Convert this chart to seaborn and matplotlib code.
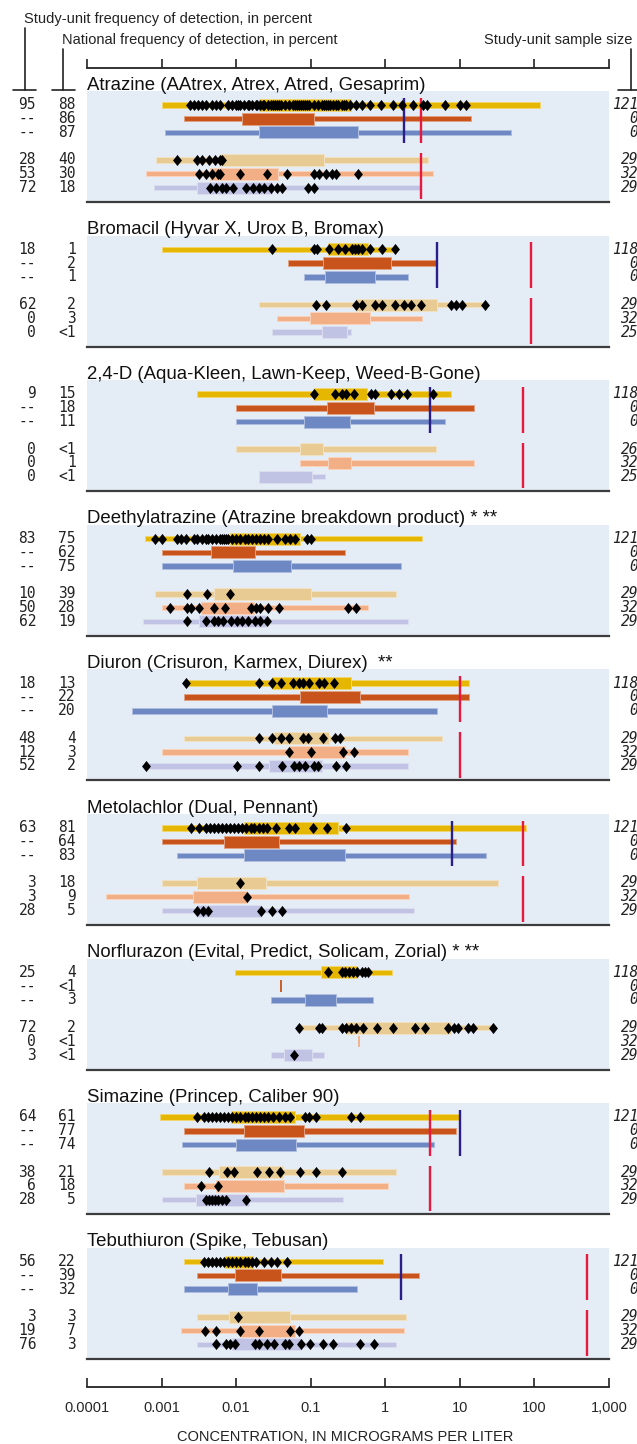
import matplotlib
matplotlib.use("Agg")
import matplotlib.pyplot as plt
import seaborn as sns
import pandas as pd
from matplotlib.colors import to_rgb
from matplotlib.lines import Line2D
from matplotlib.transforms import blended_transform_factory

# ---- data (concentrations in ug/L) ----
herbicides = [
    "Atrazine (AAtrex, Atrex, Atred, Gesaprim)",
    "Bromacil (Hyvar X, Urox B, Bromax)",
    "2,4-D (Aqua-Kleen, Lawn-Keep, Weed-B-Gone)",
    "Deethylatrazine (Atrazine breakdown product) * **",
    "Diuron (Crisuron, Karmex, Diurex)  **",
    "Metolachlor (Dual, Pennant)",
    "Norflurazon (Evital, Predict, Solicam, Zorial) * **",
    "Simazine (Princep, Caliber 90)",
    "Tebuthiuron (Spike, Tebusan)",
]

range_min = [
    [0.001, 0.002, 0.0011, 0.00085, 0.00062, 0.00079],
    [0.001, 0.05, 0.081, 0.02, 0.035, 0.03],
    [0.003, 0.01, 0.01, 0.01, 0.071, 0.02],
    [0.0006, 0.001, 0.001, 0.00081, 0.001, 0.00057],
    [0.0021, 0.002, 0.0004, 0.002, 0.001, 0.00062],
    [0.001, 0.001, 0.0016, 0.001, 0.00018, 0.001],
    [0.0098, 0.04, 0.029, 0.07, 0.44, 0.029],
    [0.00096, 0.002, 0.0019, 0.001, 0.002, 0.001],
    [0.002, 0.003, 0.002, 0.003, 0.0018, 0.003],
]
range_max = [
    [120, 14, 49, 3.7, 4.3, 3.0],
    [1.3, 5.0, 2.0, 22, 3.1, 0.35],
    [7.5, 15.5, 6.4, 4.8, 15.3, 0.155],
    [3.15, 0.29, 1.6, 1.4, 0.58, 2.0],
    [13.3, 13.3, 4.9, 5.75, 2.0, 2.0],
    [77, 8.8, 22.6, 32, 2.1, 2.45],
    [1.24, 0.04, 0.69, 28, 0.44, 0.15],
    [9.6, 9.0, 4.5, 1.38, 1.1, 0.27],
    [0.94, 2.8, 0.42, 1.9, 1.8, 1.4],
]
box_lo = [
    [0.020, 0.012, 0.020, 0.0061, 0.0044, 0.0030],
    [0.17, 0.145, 0.155, 0.41, 0.098, 0.14],
    [0.112, 0.163, 0.082, 0.071, 0.17, 0.020],
    [0.0083, 0.0046, 0.0090, 0.0051, 0.0034, 0.0032],
    [0.030, 0.071, 0.030, 0.032, 0.051, 0.028],
    [0.0126, 0.0069, 0.0126, 0.0030, 0.0026, 0.0030],
    [0.138, 0.04, 0.085, 0.30, 0.44, 0.044],
    [0.0085, 0.0126, 0.010, 0.0058, 0.0054, 0.0029],
    [0.0071, 0.0098, 0.0078, 0.0081, 0.0114, 0.0089],
]
box_hi = [
    [0.35, 0.11, 0.43, 0.15, 0.036, 0.030],
    [0.59, 1.18, 0.73, 5.0, 0.63, 0.305],
    [0.57, 0.70, 0.34, 0.145, 0.35, 0.105],
    [0.071, 0.018, 0.054, 0.10, 0.0176, 0.025],
    [0.35, 0.456, 0.167, 0.176, 0.29, 0.14],
    [0.23, 0.038, 0.29, 0.025, 0.014, 0.0215],
    [0.42, 0.04, 0.215, 7.6, 0.44, 0.105],
    [0.062, 0.082, 0.064, 0.042, 0.044, 0.015],
    [0.017, 0.040, 0.019, 0.052, 0.062, 0.075],
]

detections = [
    [  # Atrazine
        [0.0024, 0.0027, 0.0031, 0.0035, 0.0039, 0.0047, 0.0054, 0.0061, 0.0078, 0.0089,
         0.010, 0.0105, 0.0113, 0.0129, 0.0146, 0.015, 0.0165, 0.0187, 0.019, 0.021, 0.023,
         0.024, 0.027, 0.029, 0.031, 0.033, 0.035, 0.038, 0.040, 0.045, 0.051, 0.058, 0.062,
         0.066, 0.07, 0.075, 0.08, 0.084, 0.09, 0.096, 0.109, 0.124, 0.14, 0.15, 0.159, 0.17,
         0.18, 0.20, 0.22, 0.23, 0.26, 0.28, 0.30, 0.34, 0.41, 0.49, 0.63, 0.87, 1.25, 1.7,
         2.35, 3.2, 3.65, 6.4, 10, 12],
        [], [],
        [0.0016, 0.0030, 0.0035, 0.0043, 0.0052, 0.0061, 0.0065],
        [0.0032, 0.0039, 0.0047, 0.0057, 0.0061, 0.0114, 0.0257, 0.048, 0.109, 0.131, 0.159,
         0.19, 0.22, 0.43],
        [0.0044, 0.0054, 0.0065, 0.0073, 0.0091, 0.0137, 0.0166, 0.020, 0.024, 0.029, 0.035,
         0.041, 0.092, 0.112],
    ],
    [  # Bromacil
        [0.030, 0.112, 0.12, 0.176, 0.23, 0.29, 0.36, 0.39, 0.43, 0.49, 0.63, 0.89, 1.34],
        [], [],
        [0.116, 0.16, 0.40, 0.48, 0.72, 0.89, 1.34, 1.77, 2.2, 3.03, 7.6, 8.8, 10.6, 22],
        [], [],
    ],
    [  # 2,4-D
        [0.112, 0.21, 0.26, 0.30, 0.38, 0.65, 0.73, 1.21, 1.52, 1.95, 4.4],
        [], [], [], [], [],
    ],
    [  # Deethylatrazine
        [0.00081, 0.001, 0.0016, 0.0018, 0.0021, 0.0027, 0.0030, 0.0035, 0.0039, 0.0042,
         0.0047, 0.0054, 0.0061, 0.0065, 0.0069, 0.0073, 0.0078, 0.0089, 0.010, 0.0114,
         0.013, 0.0146, 0.0165, 0.0187, 0.021, 0.024, 0.027, 0.035, 0.045, 0.053, 0.062,
         0.090, 0.102],
        [], [],
        [0.0022, 0.0041, 0.0083],
        [0.0013, 0.0022, 0.0025, 0.0032, 0.0050, 0.0071, 0.016, 0.0187, 0.021, 0.027,
         0.0375, 0.32, 0.40],
        [0.0022, 0.0039, 0.0050, 0.0057, 0.0067, 0.0086, 0.0103, 0.012, 0.0146, 0.018,
         0.021, 0.026],
    ],
    [  # Diuron
        [0.0021, 0.020, 0.030, 0.040, 0.058, 0.070, 0.080, 0.096, 0.131, 0.149, 0.204],
        [], [],
        [0.020, 0.030, 0.040, 0.051, 0.080, 0.092, 0.144, 0.21, 0.246],
        [0.051, 0.101, 0.27, 0.38],
        [0.00062, 0.0103, 0.020, 0.041, 0.060, 0.070, 0.083, 0.112, 0.127, 0.22, 0.30],
    ],
    [  # Metolachlor
        [0.0025, 0.0032, 0.0039, 0.0044, 0.0050, 0.0057, 0.0065, 0.0073, 0.0083, 0.0094,
         0.0107, 0.012, 0.0137, 0.0156, 0.0176, 0.020, 0.0227, 0.0257, 0.034, 0.051, 0.062,
         0.106, 0.165, 0.30],
        [], [],
        [0.0114],
        [0.0138],
        [0.0030, 0.0036, 0.0042, 0.0215, 0.030, 0.041],
    ],
    [  # Norflurazon
        [0.17, 0.26, 0.29, 0.33, 0.37, 0.42, 0.48, 0.54, 0.59],
        [], [],
        [0.070, 0.131, 0.14, 0.26, 0.30, 0.35, 0.41, 0.50, 0.77, 1.25, 2.5, 3.4, 6.9, 8.3,
         9.4, 12.9, 14.9, 28],
        [],
        [0.059],
    ],
    [  # Simazine
        [0.0030, 0.0037, 0.0042, 0.0047, 0.0054, 0.0061, 0.0069, 0.0078, 0.0089, 0.010,
         0.0114, 0.013, 0.0146, 0.0165, 0.0187, 0.021, 0.024, 0.027, 0.031, 0.0375, 0.045,
         0.053, 0.083, 0.096, 0.116, 0.35, 0.46],
        [], [],
        [0.0043, 0.0076, 0.0093, 0.019, 0.028, 0.039, 0.071, 0.116, 0.26],
        [0.0034, 0.0057],
        [0.0039, 0.0043, 0.0047, 0.0052, 0.0057, 0.0065, 0.0073, 0.0137],
    ],
    [  # Tebuthiuron
        [0.0037, 0.0042, 0.0047, 0.0054, 0.0061, 0.0069, 0.0078, 0.0089, 0.010, 0.0114,
         0.013, 0.0146, 0.0165, 0.0187, 0.0235, 0.029, 0.035, 0.048],
        [], [],
        [0.0107],
        [0.0038, 0.0054, 0.0114, 0.020, 0.053, 0.069],
        [0.0054, 0.0072, 0.0083, 0.0096, 0.018, 0.020, 0.0257, 0.032, 0.045, 0.051, 0.075,
         0.098, 0.144, 0.199, 0.456, 0.70],
    ],
]

aquatic_line = [1.8, 5.0, 4.0, None, None, 7.8, None, 10, 1.6]
water_line = [3.0, 90, 70, None, 10, 70, None, 4.0, 500]

study_freq = [
    ["95", "--", "--", "28", "53", "72"],
    ["18", "--", "--", "62", "0", "0"],
    ["9", "--", "--", "0", "0", "0"],
    ["83", "--", "--", "10", "50", "62"],
    ["18", "--", "--", "48", "12", "52"],
    ["63", "--", "--", "3", "3", "28"],
    ["25", "--", "--", "72", "0", "3"],
    ["64", "--", "--", "38", "6", "28"],
    ["56", "--", "--", "3", "19", "76"],
]
national_freq = [
    ["88", "86", "87", "40", "30", "18"],
    ["1", "2", "1", "2", "3", "<1"],
    ["15", "18", "11", "<1", "1", "<1"],
    ["75", "62", "75", "39", "28", "19"],
    ["13", "22", "20", "4", "3", "2"],
    ["81", "64", "83", "18", "9", "5"],
    ["4", "<1", "3", "2", "<1", "<1"],
    ["61", "77", "74", "21", "18", "5"],
    ["22", "39", "32", "3", "7", "3"],
]
sample_size = [
    ["121", "0", "0", "29", "32", "29"],
    ["118", "0", "0", "29", "32", "25"],
    ["118", "0", "0", "26", "32", "25"],
    ["121", "0", "0", "29", "32", "29"],
    ["118", "0", "0", "29", "32", "29"],
    ["121", "0", "0", "29", "32", "29"],
    ["118", "0", "0", "29", "32", "29"],
    ["121", "0", "0", "29", "32", "29"],
    ["121", "0", "0", "29", "32", "29"],
]

tick_values = [0.0001, 0.001, 0.01, 0.1, 1, 10, 100, 1000]
tick_labels = ["0.0001", "0.001", "0.01", "0.1", "1", "10", "100", "1,000"]

# ---- styling ----
row_y = [1, 2, 3, 5, 6, 7]
row_colors = ["#E5B700", "#C8541B", "#6E88C3", "#E8CB93", "#F2AF85", "#C0C3E3"]
panel_bg = "#E4ECF6"
red = "#E8193C"
navy = "#2A1E8A"

sns.set_style("white")
plt.rcParams["font.family"] = ["Liberation Sans", "DejaVu Sans"]
mono = "DejaVu Sans Mono"

W, H = 637, 1444
fig = plt.figure(figsize=(W / 100, H / 100), dpi=100)
X0, X1 = 87, 609


def fx(px):
    return px / W


def fy(py):
    return 1 - py / H


def lighten(c, amt):
    r, g, b = to_rgb(c)
    return (r + (1 - r) * amt, g + (1 - g) * amt, b + (1 - b) * amt)


diamond = [(0, 1), (0.8, 0), (0, -1), (-0.8, 0), (0, 1)]

rows = []
for k in range(len(herbicides)):
    for j in range(6):
        for v in detections[k][j]:
            rows.append({"panel": k, "y": row_y[j], "conc": v})
points = pd.DataFrame(rows)

for k, name in enumerate(herbicides):
    top = 91 + 144.6 * k
    ax = fig.add_axes([fx(X0), fy(top + 111), fx(X1 - X0), 111 / H])
    ax.set_facecolor(panel_bg)
    ax.set_xscale("log")
    ax.set_xlim(1e-4, 1e3)
    for j in range(6):
        y = row_y[j]
        c = row_colors[j]
        lo, hi = range_min[k][j], range_max[k][j]
        if hi <= lo * 1.01:
            ax.vlines(lo, y - 0.42, y + 0.42, color=c, lw=1.3, zorder=3)
            continue
        ax.barh(y, hi - lo, left=lo, height=0.4, color=c,
                edgecolor=lighten(c, 0.45), linewidth=0.7, zorder=2)
        ax.barh(y, box_hi[k][j] - box_lo[k][j], left=box_lo[k][j], height=0.87,
                color=c, edgecolor=lighten(c, 0.45), linewidth=0.7, zorder=2)
    if aquatic_line[k] is not None:
        ax.vlines(aquatic_line[k], 0.48, 3.8, color=navy, lw=1.7, zorder=4)
    if water_line[k] is not None:
        ax.vlines(water_line[k], 0.48, 3.8, color=red, lw=1.7, zorder=4)
        ax.vlines(water_line[k], 4.52, 7.85, color=red, lw=1.7, zorder=4)
    sub = points[points["panel"] == k]
    if len(sub):
        sns.scatterplot(data=sub, x="conc", y="y", ax=ax, marker=diamond, s=64,
                        color="black", linewidth=0, legend=False, zorder=5)
    ax.set_ylim(8.05, 0)
    ax.set_xlabel("")
    ax.set_ylabel("")
    ax.set_xticks([])
    ax.set_yticks([])
    ax.minorticks_off()
    for s in ["top", "left", "right"]:
        ax.spines[s].set_visible(False)
    ax.spines["bottom"].set_color("#3c3c3c")
    ax.spines["bottom"].set_linewidth(1.6)
    ax.text(0, 1 + 1.5 / 111, name, transform=ax.transAxes, ha="left",
            va="baseline", fontsize=13.4, color="#111111")
    trans = blended_transform_factory(fig.transFigure, ax.transData)
    for j in range(6):
        y = row_y[j]
        ax.text(fx(36), y, study_freq[k][j], transform=trans, ha="right", va="center",
                family=mono, fontsize=10.5, color="#222222", clip_on=False)
        ax.text(fx(75.5), y, national_freq[k][j], transform=trans, ha="right", va="center",
                family=mono, fontsize=10.5, color="#222222", clip_on=False)
        ax.text(fx(638), y, sample_size[k][j], transform=trans, ha="right", va="center",
                family=mono, style="italic", fontsize=10.5, color="#222222", clip_on=False)

# top and bottom concentration scales
for ypx, labels in [(68, False), (1387, True)]:
    tax = fig.add_axes([fx(X0), fy(ypx), fx(X1 - X0), 9 / H])
    tax.set_xscale("log")
    tax.set_xlim(1e-4, 1e3)
    tax.set_facecolor("none")
    for s in ["top", "left", "right"]:
        tax.spines[s].set_visible(False)
    tax.spines["bottom"].set_linewidth(1.3)
    tax.spines["bottom"].set_color("#222222")
    tax.set_yticks([])
    tax.set_xticks(tick_values, tick_labels if labels else [""] * len(tick_values))
    tax.minorticks_off()
    tax.tick_params(axis="x", direction="in", length=6.5, width=1.2, color="#222222",
                    pad=10, labelsize=10.5, bottom=True)

fig.text(fx(345), fy(1437), "CONCENTRATION, IN MICROGRAMS PER LITER", ha="center",
         va="center", fontsize=10.5, color="#222222")

# column headers and leader lines
fig.text(fx(24), fy(19), "Study-unit frequency of detection, in percent", ha="left",
         va="center", fontsize=10.5, color="#222222")
fig.text(fx(62), fy(40), "National frequency of detection, in percent", ha="left",
         va="center", fontsize=10.5, color="#222222")
fig.text(fx(632), fy(40), "Study-unit sample size", ha="right", va="center",
         fontsize=10.5, color="#222222")

leaders = [
    ([24.5, 24.5], [28, 90]), ([13, 36], [90, 90]),
    ([63, 63], [49, 90]), ([52, 74.5], [90, 90]),
    ([631, 631], [49, 90]), ([618, 637], [90, 90]),
]
for xs, ys in leaders:
    fig.add_artist(Line2D([fx(x) for x in xs], [fy(y) for y in ys],
                          transform=fig.transFigure, color="#222222", lw=1.2))

fig.savefig("out.png", dpi=100)
